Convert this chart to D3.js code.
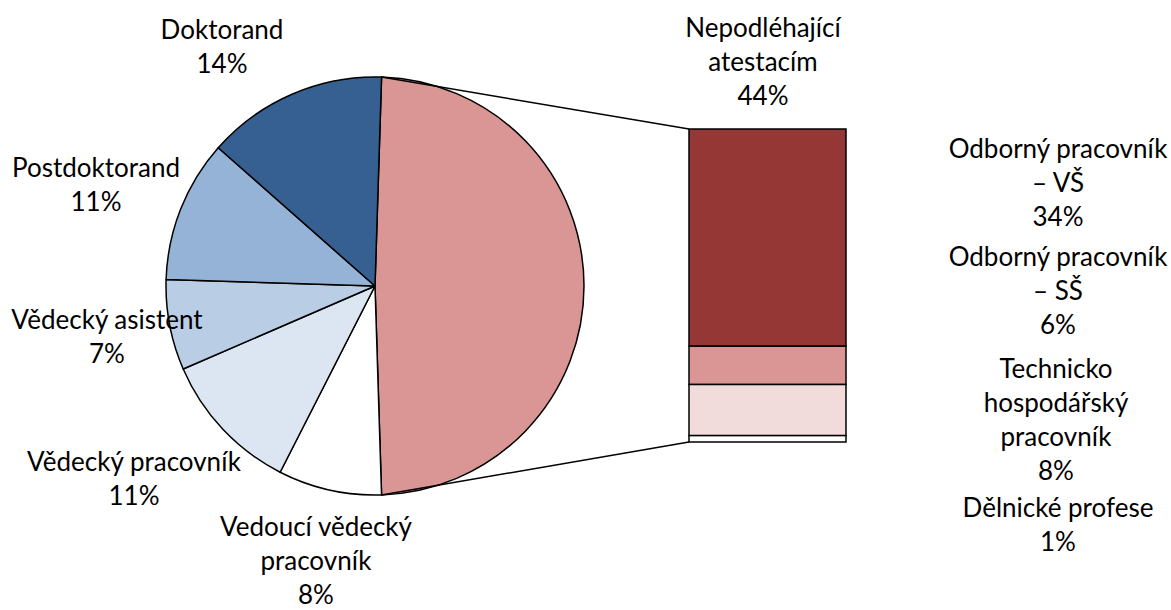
<!DOCTYPE html>
<html>
<head>
<meta charset="utf-8">
<script src="https://cdn.jsdelivr.net/npm/d3@7"></script>
<style>
  body { margin: 0; background: #fff; }
  text { font-family: Lato, "Noto Sans", sans-serif; font-size: 26px; fill: #000; }
</style>
</head>
<body>
<div id="chart"></div>
<script>
// pie slices, clockwise from the bottom of the "other" slice
var pieCategories = ['Vedoucí vědecký pracovník', 'Vědecký pracovník', 'Vědecký asistent', 'Postdoktorand', 'Doktorand'];
var pieValues = [8, 11, 7, 11, 14];
var pieColors = ['#FFFFFF', '#DCE6F2', '#B9CDE5', '#95B3D7', '#376092'];

// the split-off slice and its bar, bar segments listed top to bottom
var otherName = 'Nepodléhající atestacím';
var otherPct = 44;
var otherColor = '#D99694';
var barCategories = ['Odborný pracovník – VŠ', 'Odborný pracovník – SŠ', 'Technicko hospodářský pracovník', 'Dělnické profese'];
var barValues = [34, 6, 8, 1];
var barColors = ['#953735', '#D99694', '#F2DCDB', '#FFFFFF'];

// label text lines (how the chart wraps them)
var pieLabelLines = [['Vedoucí vědecký', 'pracovník'], ['Vědecký pracovník'], ['Vědecký asistent'], ['Postdoktorand'], ['Doktorand']];
var otherLabelLines = ['Nepodléhající', 'atestacím'];
var barLabelLines = [['Odborný pracovník', '– VŠ'], ['Odborný pracovník', '– SŠ'], ['Technicko', 'hospodářský', 'pracovník'], ['Dělnické profese']];

var width = 1171, height = 610;
var cx = 375, cy = 286, r = 209;
var bar = { x: 689, w: 157, top: 129, bottom: 442 };
var lineH = 34;

// label anchors: centre x, first baseline
var pieLabelPos = [[316, 536], [134, 471], [107, 329], [96, 177], [222, 39]];
var otherLabelPos = [763, 37];
var barLabelPos = [[1058, 158], [1058, 266], [1056, 378], [1058, 517]];

var svg = d3.select('#chart').append('svg')
    .attr('width', width).attr('height', height);

var otherValue = d3.sum(barValues);
var pieData = [{ name: otherName, value: otherValue, color: otherColor }]
    .concat(pieCategories.map(function (c, i) { return { name: c, value: pieValues[i], color: pieColors[i] }; }));

var start = Math.PI / 2 - Math.PI * otherValue / d3.sum(pieData, function (d) { return d.value; });
var pie = d3.pie().sort(null).value(function (d) { return d.value; })
    .startAngle(start).endAngle(start + 2 * Math.PI);
var arcs = pie(pieData);
var arc = d3.arc().innerRadius(0).outerRadius(r);

var g = svg.append('g').attr('transform', 'translate(' + cx + ',' + cy + ')');
g.selectAll('path')
    .data(arcs)
    .enter()
    .append('path')
    .attr('d', arc)
    .attr('fill', function (d) { return d.data.color; })
    .attr('stroke', '#000')
    .attr('stroke-width', 1.5)
    .attr('stroke-linejoin', 'round');

// bar of the split slice
var y = d3.scaleLinear().domain([0, otherValue]).range([bar.top, bar.bottom]);
var cum = 0;
var segs = barValues.map(function (v, i) {
    var s = { y0: cum, y1: cum + v, color: barColors[i] };
    cum += v;
    return s;
});

svg.selectAll('.seg')
    .data(segs)
    .enter()
    .append('rect')
    .attr('class', 'seg')
    .attr('x', bar.x)
    .attr('width', bar.w)
    .attr('y', function (d) { return y(d.y0); })
    .attr('height', function (d) { return y(d.y1) - y(d.y0); })
    .attr('fill', function (d) { return d.color; })
    .attr('stroke', '#000')
    .attr('stroke-width', 1.5);

// connector lines from slice edges to the bar corners
var a0 = arcs[0].startAngle, a1 = arcs[0].endAngle;
var connectors = [
    [cx + r * Math.sin(a0), cy - r * Math.cos(a0), bar.x, bar.top],
    [cx + r * Math.sin(a1), cy - r * Math.cos(a1), bar.x, bar.bottom]
];
svg.selectAll('.conn')
    .data(connectors)
    .enter()
    .append('line')
    .attr('class', 'conn')
    .attr('x1', function (d) { return d[0]; })
    .attr('y1', function (d) { return d[1]; })
    .attr('x2', function (d) { return d[2]; })
    .attr('y2', function (d) { return d[3]; })
    .attr('stroke', '#000')
    .attr('stroke-width', 1.5);

function addLabel(lines, pos) {
    var t = svg.append('text')
        .attr('text-anchor', 'middle')
        .attr('x', pos[0])
        .attr('y', pos[1]);
    lines.forEach(function (l, i) {
        t.append('tspan')
            .attr('x', pos[0])
            .attr('dy', i === 0 ? 0 : lineH)
            .text(l);
    });
}

pieCategories.forEach(function (c, i) {
    addLabel(pieLabelLines[i].concat([pieValues[i] + '%']), pieLabelPos[i]);
});
addLabel(otherLabelLines.concat([otherPct + '%']), otherLabelPos);
barCategories.forEach(function (c, i) {
    addLabel(barLabelLines[i].concat([barValues[i] + '%']), barLabelPos[i]);
});
</script>
</body>
</html>
